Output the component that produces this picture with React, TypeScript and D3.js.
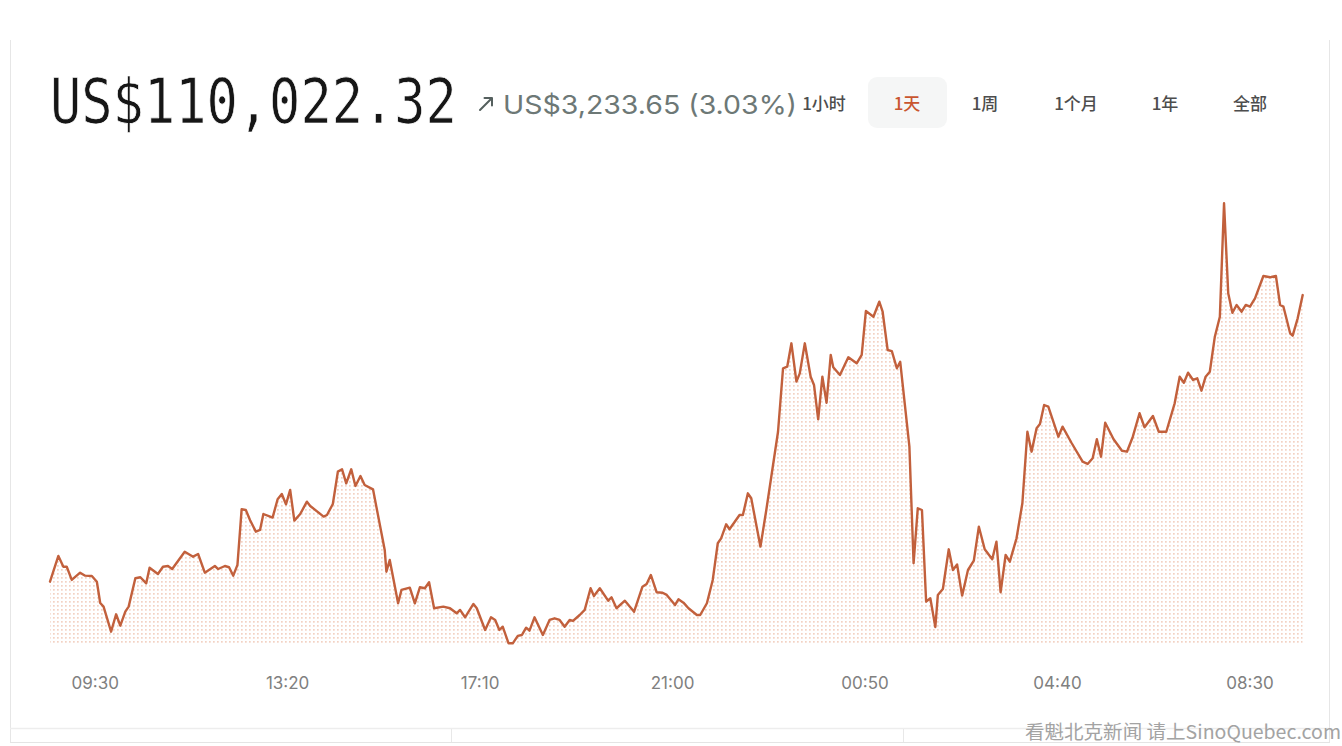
import React from 'react';
import * as d3 from 'd3';

const W = 1342;
const H = 746;

// Series start: 08:36, values every few minutes (minutes offset from start)
const startTime = new Date(2025, 6, 9, 8, 36);
const minutesFromStart = [
  0, 10, 16, 20, 26, 36, 42, 50, 56, 60,
  64, 73, 79, 84, 90, 94, 102, 108, 115, 119,
  129, 135, 141, 146, 151, 161, 171, 177, 185, 197,
  201, 209, 214, 219, 224, 229, 234, 239, 246, 251,
  255, 263, 266, 272, 277, 282, 287, 292, 299, 307,
  311, 327, 331, 338, 344, 349, 354, 360, 365, 371,
  376, 386, 400, 402, 406, 416, 420, 430, 436, 442,
  448, 453, 459, 470, 478, 486, 490, 496, 506, 510,
  520, 527, 532, 537, 541, 548, 553, 559, 564, 569,
  573, 579, 589, 597, 603, 609, 615, 621, 625, 633,
  639, 646, 650, 657, 667, 671, 677, 687, 698, 708,
  713, 718, 725, 732, 737, 747, 751, 757, 763, 773,
  777, 785, 792, 798, 802, 808, 812, 824, 828, 834,
  838, 849, 856, 870, 876, 881, 886, 892, 896, 902,
  909, 913, 918, 923, 928, 933, 936, 944, 954, 964,
  970, 975, 984, 991, 995, 1001, 1006, 1012, 1016, 1027,
  1032, 1037, 1042, 1047, 1052, 1058, 1061, 1067, 1074, 1079,
  1084, 1090, 1097, 1104, 1110, 1117, 1126, 1131, 1136, 1142,
  1147, 1155, 1162, 1168, 1173, 1179, 1183, 1188, 1193, 1205,
  1210, 1221, 1234, 1240, 1246, 1251, 1256, 1261, 1271, 1281,
  1287, 1294, 1302, 1308, 1318, 1325, 1334, 1344, 1350, 1355,
  1360, 1366, 1371, 1376, 1381, 1386, 1392, 1398, 1403, 1408,
  1413, 1418, 1424, 1429, 1434, 1440, 1450, 1458, 1465, 1470,
  1474, 1482, 1485, 1491, 1497,
];

const prices = [
  106792, 107082, 106961, 106961, 106812, 106894, 106860, 106857, 106792, 106552,
  106511, 106229, 106425, 106297, 106454, 106511, 106831, 106842, 106774, 106950,
  106879, 106961, 106969, 106935, 107000, 107130, 107074, 107104, 106894, 106969,
  106935, 106969, 106955, 106860, 106981, 107608, 107600, 107488, 107356, 107375,
  107555, 107525, 107514, 107721, 107781, 107664, 107826, 107480, 107555, 107694,
  107645, 107525, 107544, 107668, 108032, 108059, 107901, 108059, 107871, 107983,
  107882, 107833, 107150, 106905, 107037, 106549, 106699, 106725, 106549, 106729,
  106718, 106786, 106493, 106511, 106493, 106436, 106474, 106391, 106541, 106493,
  106248, 106391, 106361, 106248, 106285, 106098, 106098, 106181, 106192, 106274,
  106240, 106391, 106192, 106361, 106380, 106361, 106285, 106361, 106350, 106417,
  106474, 106718, 106631, 106718, 106578, 106617, 106493, 106578, 106454, 106736,
  106766, 106868, 106673, 106668, 106643, 106530, 106594, 106556, 106493, 106417,
  106417, 106549, 106812, 107225, 107281, 107439, 107383, 107544, 107544, 107788,
  107732, 107187, 107600, 108482, 109197, 109215, 109478, 109046, 109140, 109478,
  109102, 109009, 108622, 109102, 108809, 109347, 109208, 109121, 109321, 109253,
  109347, 109842, 109778, 109947, 109834, 109403, 109391, 109197, 109271, 108313,
  107000, 107619, 107600, 106567, 106605, 106282, 106643, 106710, 107157, 106924,
  106986, 106635, 106924, 107029, 107412, 107157, 107045, 107243, 106673, 107093,
  107018, 107281, 107676, 108482, 108257, 108521, 108569, 108783, 108764, 108426,
  108539, 108352, 108144, 108119, 108183, 108397, 108201, 108584, 108397, 108268,
  108257, 108426, 108690, 108532, 108659, 108482, 108482, 108802, 109102, 109034,
  109147, 109065, 109084, 108944, 109102, 109158, 109553, 109778, 111056, 110042,
  109823, 109910, 109834, 109910, 109891, 109985, 110237, 110222, 110237, 109910,
  109891, 109591, 109564, 109760, 110022,
];

const tickLabels = ['09:30', '13:20', '17:10', '21:00', '00:50', '04:40', '08:30'];
const periods = ['1小时', '1天', '1周', '1个月', '1年', '全部'];
const selectedPeriod = '1天';
const currentPriceText = 'US$110,022.32';
const changeText = 'US$3,233.65 (3.03%)';
const watermarkText = '看魁北克新闻 请上SinoQuebec.com';

// layout
const plotLeft = 50;
const plotRight = 1302.7;
const plotBottom = 645;
const periodCenters = [824, 907, 985, 1076, 1165, 1250];

const LINE_COLOR = '#c2603c';

export default function App() {
  const data = minutesFromStart.map((m, i) => ({
    t: new Date(startTime.getTime() + m * 60000),
    v: prices[i],
  }));
  const endTime = data[data.length - 1].t;

  const x = d3.scaleTime().domain([startTime, endTime]).range([plotLeft, plotRight]);
  const y = d3.scaleLinear().domain([106000, 111200]).range([652, 190.5]);

  const line = d3
    .line<{ t: Date; v: number }>()
    .x((d) => x(d.t))
    .y((d) => y(d.v));
  const area = d3
    .area<{ t: Date; v: number }>()
    .x((d) => x(d.t))
    .y0(plotBottom)
    .y1((d) => y(d.v));

  const tickDates = tickLabels.map((lab) => {
    const [hh, mm] = lab.split(':').map(Number);
    const d = new Date(startTime);
    d.setHours(hh, mm, 0, 0);
    if (d < startTime) d.setDate(d.getDate() + 1);
    return d;
  });
  const fmt = d3.timeFormat('%H:%M');

  return (
    <svg
      width={W}
      height={H}
      style={{ position: 'absolute', left: 0, top: 0, background: '#fff' }}
    >
      <defs>
        <pattern id="dots" width="4" height="4" patternUnits="userSpaceOnUse">
          <rect x="1" y="1" width="1.7" height="1.7" fill="#f3d2c3" />
        </pattern>
      </defs>
      <rect x={0} y={0} width={W} height={H} fill="#ffffff" />

      {/* card borders */}
      <line x1={10.5} y1={40} x2={10.5} y2={742} stroke="#e6e6e6" strokeWidth={1} />
      <line x1={1329.5} y1={40} x2={1329.5} y2={742} stroke="#e6e6e6" strokeWidth={1} />
      <line x1={10} y1={728.5} x2={1330} y2={728.5} stroke="#ededed" strokeWidth={1.5} />
      <line x1={10} y1={742.5} x2={1330} y2={742.5} stroke="#e4e4e4" strokeWidth={1} />
      <line x1={451.5} y1={729} x2={451.5} y2={742} stroke="#e8e8e8" strokeWidth={1} />
      <line x1={903.5} y1={729} x2={903.5} y2={742} stroke="#e8e8e8" strokeWidth={1} />

      {/* header */}
      <text
        transform="translate(50,123) scale(1,1.2)"
        x={0}
        y={0}
        fontFamily="'DejaVu Sans Mono', monospace"
        fontSize={52}
        fill="#161616"
        stroke="#ffffff"
        strokeWidth={0.6}
      >
        {currentPriceText}
      </text>
      <path
        d="M480,110 L492,98 M484.5,98 L492,98 L492,105.5"
        fill="none"
        stroke="#55605e"
        strokeWidth={2}
        strokeLinecap="round"
        strokeLinejoin="round"
      />
      <text
        x={503}
        y={114}
        fontFamily="Inter, 'Noto Sans', sans-serif"
        fontSize={26}
        fill="#6d7876"
        textLength={294}
        lengthAdjust="spacingAndGlyphs"
      >
        {changeText}
      </text>

      {/* period selector */}
      <rect x={868} y={77} width={79} height={51} rx={9} fill="#f5f6f6" />
      {periods.map((p, i) => (
        <text
          key={p}
          x={periodCenters[i]}
          y={110}
          textAnchor="middle"
          fontFamily="'Noto Sans CJK SC', sans-serif"
          fontSize={17}
          fontWeight={500}
          fill={p === selectedPeriod ? '#c9552f' : '#4d4d4d'}
        >
          {p}
        </text>
      ))}

      {/* chart */}
      <path d={area(data) || ''} fill="url(#dots)" />
      <path
        d={line(data) || ''}
        fill="none"
        stroke={LINE_COLOR}
        strokeWidth={2.4}
        strokeLinejoin="round"
        strokeLinecap="round"
      />

      {/* x axis labels */}
      {tickDates.map((d, i) => (
        <text
          key={i}
          x={x(d)}
          y={689}
          textAnchor="middle"
          fontFamily="Inter, 'Noto Sans', sans-serif"
          fontSize={17}
          fill="#808080"
        >
          {fmt(d)}
        </text>
      ))}

      {/* watermark */}
      <text
        x={1341}
        y={739}
        textAnchor="end"
        fontFamily="'Noto Sans CJK SC', sans-serif"
        fontSize={19}
        fill="#a3a3a3"
        textLength={316}
        lengthAdjust="spacingAndGlyphs"
      >
        {watermarkText}
      </text>
    </svg>
  );
}
